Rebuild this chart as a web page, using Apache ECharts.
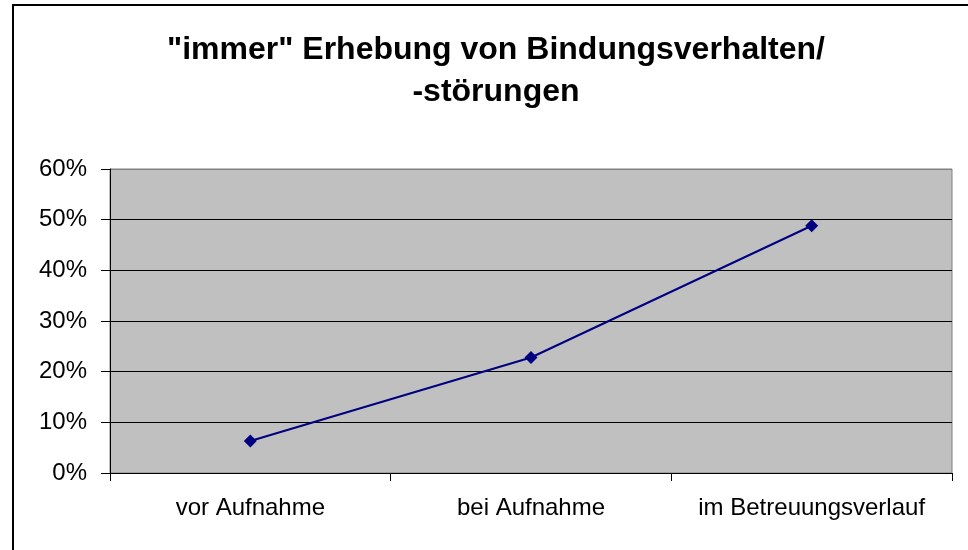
<!DOCTYPE html>
<html>
<head>
<meta charset="utf-8">
<script src="https://cdn.jsdelivr.net/npm/echarts@6/dist/echarts.min.js"></script>
<style>html,body{margin:0;padding:0;background:#fff}#c{width:968px;height:550px}</style>
</head>
<body>
<div id="c"></div>
<script>
var titleText = '"immer" Erhebung von Bindungsverhalten/\n-störungen';
var categories = ['vor Aufnahme', 'bei Aufnahme', 'im Betreuungsverlauf'];
var values = [6.3, 22.8, 48.8];
var yMin = 0, yMax = 60, yStep = 10;

var chart = echarts.init(document.getElementById('c'), null, {renderer: 'canvas'});
chart.setOption({
  animation: false,
  backgroundColor: '#ffffff',
  title: {
    text: titleText,
    left: 491,
    top: 24,
    textAlign: 'center',
    textStyle: {fontFamily: 'Liberation Sans, Arial, sans-serif', fontWeight: 'bold', fontSize: 32, lineHeight: 42, color: '#000'}
  },
  graphic: [{
    type: 'rect',
    shape: {x: 13, y: 5, width: 1000, height: 1000},
    style: {fill: 'none', stroke: '#000', lineWidth: 2},
    silent: true
  }],
  grid: {
    left: 110, right: 16, top: 169, bottom: 77,
    show: true, backgroundColor: '#c0c0c0', borderColor: '#808080', borderWidth: 1
  },
  xAxis: {
    type: 'category',
    data: categories,
    boundaryGap: true,
    axisLine: {lineStyle: {color: '#000', width: 1}},
    axisTick: {show: true, interval: 0, length: 8, lineStyle: {color: '#000'}},
    axisLabel: {interval: 0, margin: 23, color: '#000', fontSize: 24, fontFamily: 'Liberation Sans, Arial, sans-serif'},
    splitLine: {show: false}
  },
  yAxis: {
    type: 'value',
    min: yMin, max: yMax, interval: yStep,
    axisLine: {show: true, lineStyle: {color: '#000', width: 1}},
    axisTick: {show: true, length: 9, lineStyle: {color: '#000'}},
    axisLabel: {margin: 23, color: '#000', fontSize: 24, fontFamily: 'Liberation Sans, Arial, sans-serif', formatter: '{value}%'},
    splitLine: {show: true, lineStyle: {color: ['#000', '#000', '#000', '#000', '#000', '#000', '#808080'], width: 1}}
  },
  series: [{
    type: 'line',
    data: values,
    symbol: 'diamond',
    symbolSize: 13,
    lineStyle: {color: '#000080', width: 2},
    itemStyle: {color: '#000080'}
  }]
});
</script>
</body>
</html>
